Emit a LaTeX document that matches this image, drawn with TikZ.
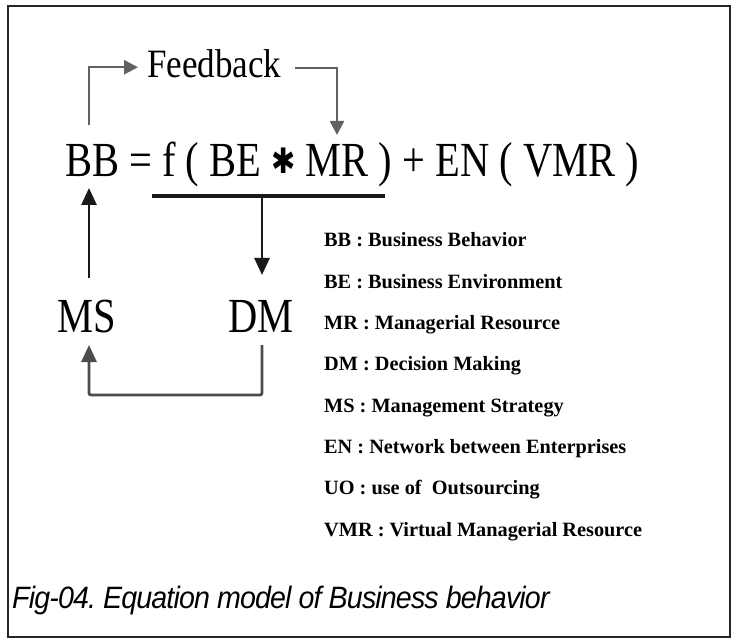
\documentclass[tikz,border=0pt]{standalone}
\usepackage{fontspec}
\usepackage{graphicx}
\setmainfont{Liberation Serif}
\newfontfamily\capfont[LetterSpace=-3]{Liberation Sans}
\newfontfamily\symfont{DejaVu Sans}
\usetikzlibrary{arrows.meta}
% vertically stretched text, as in the printed figure
\newcommand{\vstretch}[2]{\scalebox{1}[#1]{#2}}
% heavy asterisk used as the product sign
\newcommand{\prodsign}{\raisebox{2.5pt}{\symfont\fontsize{29}{29}\selectfont ✱}}

\begin{document}
\begin{tikzpicture}[x=1pt,y=-1pt,
  every node/.style={inner sep=0pt, anchor=base west},
  eqtext/.style={font=\fontsize{40.5}{44}\selectfont},
  fbtext/.style={font=\fontsize{35}{40}\selectfont},
  legend/.style={font=\fontsize{20.3}{22}\selectfont\bfseries},
  captext/.style={font=\fontsize{28.6}{32}\selectfont\capfont\itshape},
  fbline/.style={draw=black!62, line width=2.4pt,
    -{Triangle[length=14pt,width=14pt]}},
  mainarrow/.style={draw=black!90, line width=2.8pt,
    -{Triangle[length=17pt,width=15pt]}},
  loopline/.style={draw=black!70, line width=2.8pt, rounded corners=2pt,
    -{Triangle[length=17pt,width=15pt]}},
  underbar/.style={draw=black!90, line width=3.6pt},
  frame/.style={draw=black!85, line width=1.5pt}
]
\useasboundingbox (0,0) rectangle (731,639);

% outer frame
\draw[frame] (8,6) rectangle (730,637);

% equation, feedback label and the two variables
\node[eqtext] (eq) at (65,177)
  {\vstretch{1.21}{BB = f ( BE \prodsign\ MR ) + EN ( VMR )}};
\node[fbtext] (fb) at (147,78) {\vstretch{1.15}{Feedback}};
\node[eqtext] (ms) at (57,332) {\vstretch{1.21}{MS}};
\node[eqtext] (dm) at (228,332) {\vstretch{1.21}{DM}};

% connector end points
\coordinate (bbtop) at (89,125);
\coordinate (mrtop) at (337,135);
\coordinate (bbbot) at (89,188);
\coordinate (msup) at (89,278);
\coordinate (ulL) at (152,196);
\coordinate (ulR) at (385,196);
\coordinate (ulmid) at (262,196);
\coordinate (dmtop) at (262,275);
\coordinate (dmbot) at (262,345);
\coordinate (msbot) at (89,345);

% feedback loop over the equation
\draw[fbline, shorten >=9pt] (bbtop) |- ([yshift=-3pt]fb.west);
\draw[fbline, shorten <=13pt] ([yshift=-4pt]fb.east) -| (mrtop);

% underline of f( BE * MR ) and its arrow down to DM
\draw[underbar] (ulL) -- (ulR);
\draw[mainarrow] (ulmid) -- (dmtop);

% MS feeds BB
\draw[mainarrow] (msup) -- (bbbot);

% DM back to MS
\draw[loopline] (dmbot) -- (262,395) -- (89,395) -- (msbot);

% legend
\node[legend] (lgBB)  at (324,246.5) {BB : Business Behavior};
\node[legend] (lgBE)  at (324,288)   {BE : Business Environment};
\node[legend] (lgMR)  at (324,329.5) {MR : Managerial Resource};
\node[legend] (lgDM)  at (324,370.5) {DM : Decision Making};
\node[legend] (lgMS)  at (324,412)   {MS : Management Strategy};
\node[legend] (lgEN)  at (324,453.5) {EN : Network between Enterprises};
\node[legend] (lgUO)  at (324,494.5) {UO : use of\ \ Outsourcing};
\node[legend] (lgVMR) at (324,536)   {VMR : Virtual Managerial Resource};

% caption
\node[captext] (cap) at (12,608)
  {\vstretch{1.08}{Fig-04.\ Equation model of Business behavior}};
\end{tikzpicture}
\end{document}
